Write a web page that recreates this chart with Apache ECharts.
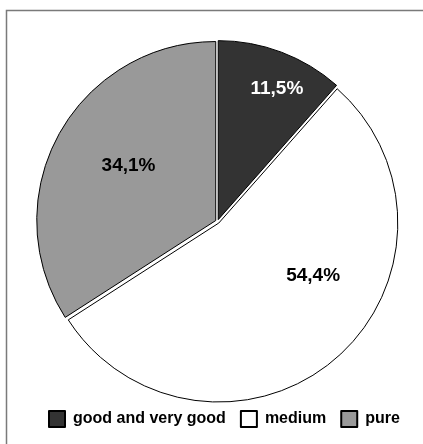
<!DOCTYPE html>
<html>
<head>
<meta charset="utf-8">
<script src="https://cdn.jsdelivr.net/npm/echarts@6/dist/echarts.min.js"></script>
<style>
html,body{margin:0;padding:0;background:#fff;}
#main{width:423px;height:444px;}
</style>
</head>
<body>
<div id="main"></div>
<script>
const categories = ['good and very good', 'medium', 'pure'];
const values = [11.5, 54.4, 34.1];
const labels = ['11,5%', '54,4%', '34,1%'];
const colors = ['#333333', '#ffffff', '#999999'];
const labelColors = ['#ffffff', '#000000', '#000000'];
const labelShift = [[26, -44], [34, -17], [-6, -10]];

const FONT = '"Liberation Sans", Arial, Helvetica, sans-serif';
const chart = echarts.init(document.getElementById('main'), null, {renderer: 'canvas'});

const data = categories.map((c, i) => ({
  name: c,
  value: values[i],
  selected: true,
  itemStyle: {color: colors[i]},
  select: {itemStyle: {color: colors[i], borderColor: '#000', borderWidth: 1}},
  label: {
    formatter: labels[i],
    color: labelColors[i]
  }
}));

chart.setOption({
  animation: false,
  graphic: [{
    type: 'polyline',
    shape: {points: [[6.5, 460], [6.5, 10.5], [430, 10.5]]},
    style: {stroke: '#7a7a7a', lineWidth: 1.5, fill: null},
    silent: true
  }],
  legend: {
    data: categories,
    left: 43,
    top: 405,
    itemWidth: 16,
    itemHeight: 16,
    itemGap: 14,
    icon: 'rect',
    selectedMode: false,
    textStyle: {fontFamily: FONT, fontWeight: 'bold', fontSize: 16, color: '#000', padding: [0, 0, 0, 3]}
  },
  series: [{
    type: 'pie',
    center: [217.5, 221.5],
    radius: [0, 179],
    startAngle: 90,
    clockwise: true,
    selectedMode: 'multiple',
    selectedOffset: 2,
    avoidLabelOverlap: false,
    emphasis: {disabled: true, scale: false},
    itemStyle: {borderColor: '#000', borderWidth: 1},
    label: {
      show: true,
      position: 'inside',
      fontFamily: FONT,
      fontWeight: 'bold',
      fontSize: 19
    },
    labelLayout: function (p) {
      const s = labelShift[p.dataIndex];
      return {dx: s[0], dy: s[1]};
    },
    labelLine: {show: false},
    data: data
  }]
});
</script>
</body>
</html>
